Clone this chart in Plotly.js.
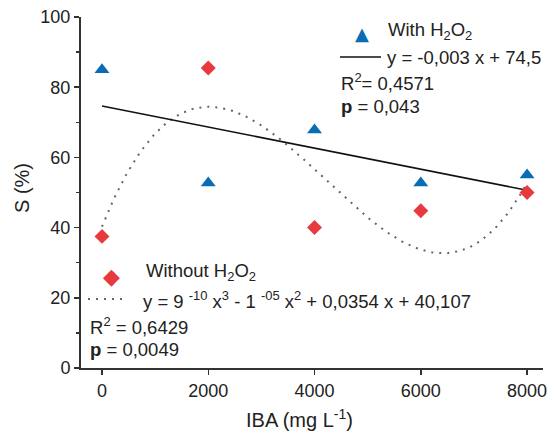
<!DOCTYPE html>
<html><head><meta charset="utf-8">
<script src="https://cdn.plot.ly/plotly-3.0.1.min.js"></script>
<style>html,body{margin:0;padding:0;background:#fff}#chart{width:549px;height:431px}</style>
</head><body><div id="chart"></div>
<script>
const ibaLevels = [0, 2000, 4000, 6000, 8000];
const withH2O2 = [85, 52.7, 67.8, 52.7, 55];
const withoutH2O2 = [37.5, 85.5, 40, 44.8, 50];
const xTicks = [0, 2000, 4000, 6000, 8000];
const yTicks = [0, 20, 40, 60, 80, 100];

// least-squares polynomial fit (x scaled by 1000)
function polyfit(xs, ys, deg) {
  const n = deg + 1, A = [], b = [];
  for (let i = 0; i < n; i++) { A.push(new Array(n).fill(0)); b.push(0); }
  xs.forEach((x0, k) => {
    const x = x0 / 1000;
    for (let i = 0; i < n; i++) {
      b[i] += ys[k] * Math.pow(x, i);
      for (let j = 0; j < n; j++) A[i][j] += Math.pow(x, i + j);
    }
  });
  for (let i = 0; i < n; i++) {
    let p = i;
    for (let r = i + 1; r < n; r++) if (Math.abs(A[r][i]) > Math.abs(A[p][i])) p = r;
    [A[i], A[p]] = [A[p], A[i]]; [b[i], b[p]] = [b[p], b[i]];
    for (let r = i + 1; r < n; r++) {
      const f = A[r][i] / A[i][i];
      for (let c = i; c < n; c++) A[r][c] -= f * A[i][c];
      b[r] -= f * b[i];
    }
  }
  const c = new Array(n).fill(0);
  for (let i = n - 1; i >= 0; i--) {
    let s = b[i];
    for (let j = i + 1; j < n; j++) s -= A[i][j] * c[j];
    c[i] = s / A[i][i];
  }
  return x0 => c.reduce((acc, ci, i) => acc + ci * Math.pow(x0 / 1000, i), 0);
}
const lin = polyfit(ibaLevels, withH2O2, 1);
const cub = polyfit(ibaLevels, withoutH2O2, 3);
const xs = [];
for (let x = 0; x <= 8000; x += 50) xs.push(x);

const blue = '#0a6cb4', red = '#e63a3e';
const traces = [
  {x: xs, y: xs.map(cub), mode: 'lines', line: {color: '#666', width: 2, dash: '2px,6px'}, hoverinfo: 'skip'},
  {x: [0, 8000], y: [lin(0), lin(8000)], mode: 'lines', line: {color: '#111', width: 1.6}, hoverinfo: 'skip'},
  {x: ibaLevels, y: withH2O2, mode: 'markers', name: 'With H2O2',
   marker: {symbol: 'triangle-up', size: 13, color: blue}},
  {x: ibaLevels, y: withoutH2O2, mode: 'markers', name: 'Without H2O2',
   marker: {symbol: 'diamond', size: 11.5, color: red}}
];

const L = 81, R = 543, T = 17, B = 368;
const px = v => (v - L) / (R - L);
const py = v => (B - v) / (B - T);
const FAM = 'Liberation Sans, Arial, sans-serif';
const tf = {family: FAM, size: 18.5, color: '#222'};
const tickf = {family: FAM, size: 18, color: '#222'};
const titf = {family: FAM, size: 20, color: '#222'};
function ann(text, x, y, extra) {
  return Object.assign({text, x: px(x), y: py(y), xref: 'paper', yref: 'paper',
    xanchor: 'left', yanchor: 'middle', showarrow: false, font: tf}, extra || {});
}
const annotations = [
  ann('▲', 362, 33, {xanchor: 'center', font: {family: 'DejaVu Sans', size: 18, color: blue}}),
  ann('With H<sub>2</sub>O<sub>2</sub>', 386, 31),
  ann('y = -0,003 x + 74,5', 385, 57),
  ann('R<sup>2</sup>= 0,4571', 339, 82),
  ann('<b>p</b> = 0,043', 339, 106),
  ann('◆', 111, 276, {xanchor: 'center', font: {family: 'DejaVu Sans', size: 22, color: red}}),
  ann('Without H<sub>2</sub>O<sub>2</sub>', 144, 272),
  ann('y = 9 <sup>-10</sup> x<sup>3</sup> - 1 <sup>-05</sup> x<sup>2</sup> + 0,0354 x + 40,107', 141, 300),
  ann('R<sup>2</sup> = 0,6429', 88, 326),
  ann('<b>p</b> = 0,0049', 88, 349),
  ann('S (%)', 22, 188, {xanchor: 'center', textangle: -90, font: titf}),
  ann('IBA (mg L<sup>-1</sup>)', 299, 418, {xanchor: 'center', font: titf})
];
const shapes = [
  {type: 'line', xref: 'paper', yref: 'paper', x0: px(340), x1: px(381), y0: py(57), y1: py(57), line: {color: '#111', width: 1.6}},
  {type: 'line', xref: 'paper', yref: 'paper', x0: px(88), x1: px(126), y0: py(299), y1: py(299), line: {color: '#666', width: 2, dash: '2px,6px'}}
];

const layout = {
  width: 549, height: 431,
  margin: {l: L, r: 549 - R, t: T, b: 431 - B, pad: 0},
  showlegend: false,
  paper_bgcolor: '#fff', plot_bgcolor: '#fff',
  font: tf,
  xaxis: {range: [-395, 8300], tickvals: xTicks, ticks: 'outside', ticklen: 5, tickwidth: 1.5, tickcolor: '#333',
    showline: true, linecolor: '#333', linewidth: 2, showgrid: false, zeroline: false, tickfont: tickf},
  yaxis: {range: [0, 100], tickvals: yTicks, ticks: 'outside', ticklen: 5, tickwidth: 1.5, tickcolor: '#333',
    minor: {dtick: 10, tick0: 0, ticks: 'outside', ticklen: 3, tickwidth: 1.5, tickcolor: '#333', showgrid: false},
    showline: true, linecolor: '#333', linewidth: 2, showgrid: false, zeroline: false, tickfont: tickf},
  annotations, shapes
};
Plotly.newPlot('chart', traces, layout, {displayModeBar: false, staticPlot: true});
</script></body></html>
